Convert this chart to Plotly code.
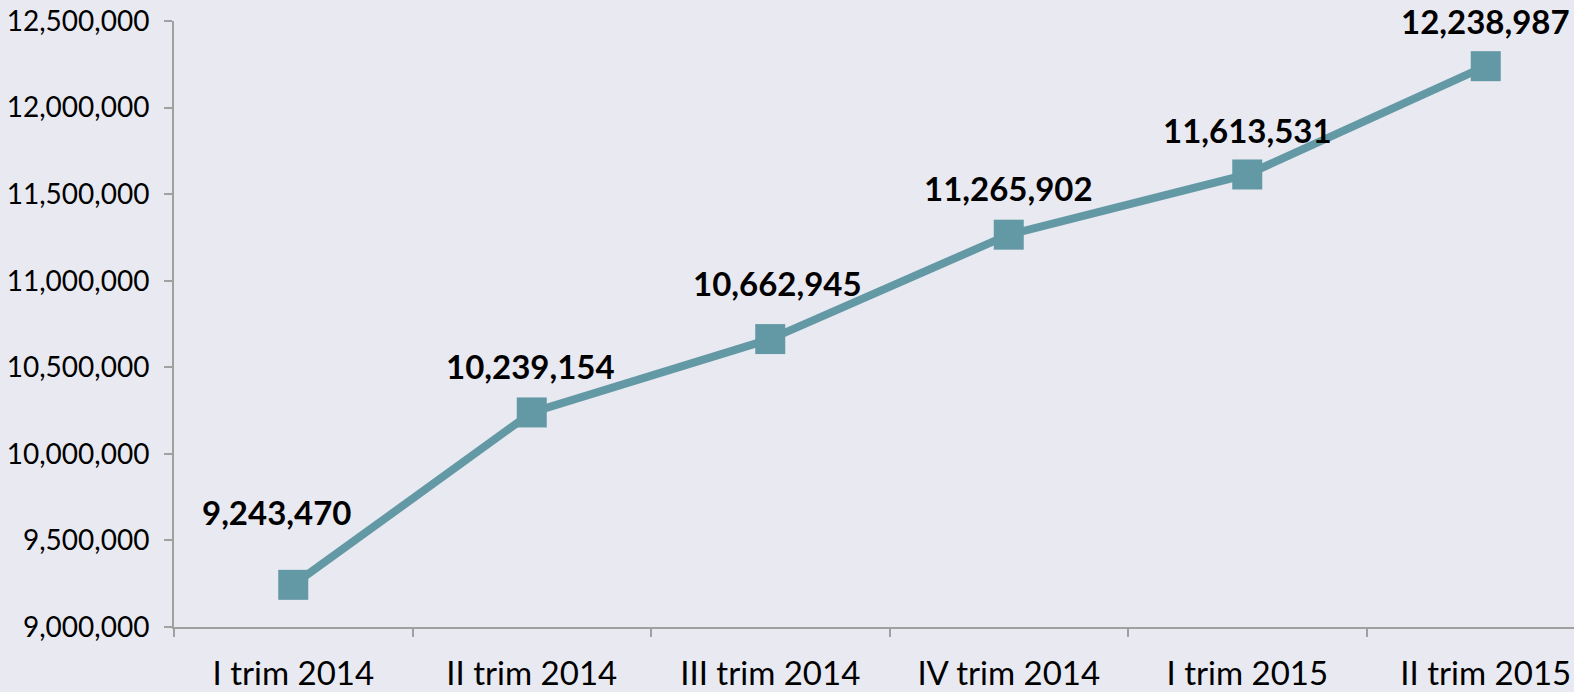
import plotly.graph_objects as go

categories = ["I trim 2014", "II trim 2014", "III trim 2014", "IV trim 2014", "I trim 2015", "II trim 2015"]
values = [9243470, 10239154, 10662945, 11265902, 11613531, 12238987]

# label offsets in pixels (dx, dy) relative to each point
label_dx = [-17, -1, 7, 0, 0, 0]
label_dy = [73, 46, 56, 47, 44, 45]

BG = "#E9E9F1"
LINE = "#6399A5"
FONT = "Lato"

fig = go.Figure()
fig.add_trace(go.Scatter(
    x=categories, y=values, mode="lines+markers",
    line=dict(color=LINE, width=8),
    marker=dict(symbol="square", size=30, color=LINE),
    hoverinfo="x+y", showlegend=False,
))

for c, v, dx, dy in zip(categories, values, label_dx, label_dy):
    fig.add_annotation(x=c, y=v, text=f"<b>{v:,}</b>", showarrow=False,
                       xshift=dx, yshift=dy, xanchor="center", yanchor="middle",
                       font=dict(family=FONT, size=33, color="black"))

fig.update_layout(
    width=1574, height=692,
    margin=dict(l=174, r=0, t=21, b=65),
    paper_bgcolor=BG, plot_bgcolor=BG,
    font=dict(family=FONT, color="black"),
)
fig.update_xaxes(
    type="category", range=[-0.5, 5.37], tickson="boundaries",
    ticks="outside", ticklen=8, tickcolor="#A0A0A0", tickwidth=2,
    showline=True, linecolor="#A0A0A0", linewidth=2,
    showgrid=False, zeroline=False, ticklabelstandoff=16,
    tickfont=dict(family=FONT, size=33, color="black"),
)
fig.update_yaxes(
    range=[9000000, 12500000], tickvals=[9000000 + 500000 * i for i in range(8)],
    tickformat=",d", ticks="outside", ticklen=8, tickcolor="#A0A0A0", tickwidth=2,
    showline=True, linecolor="#A0A0A0", linewidth=2,
    showgrid=False, zeroline=False, ticklabelstandoff=9,
    tickfont=dict(family=FONT, size=28, color="black"),
)

fig.write_html("out.html", config={"displayModeBar": False},
               post_script="document.body.style.margin='0';document.body.style.overflow='hidden';")
